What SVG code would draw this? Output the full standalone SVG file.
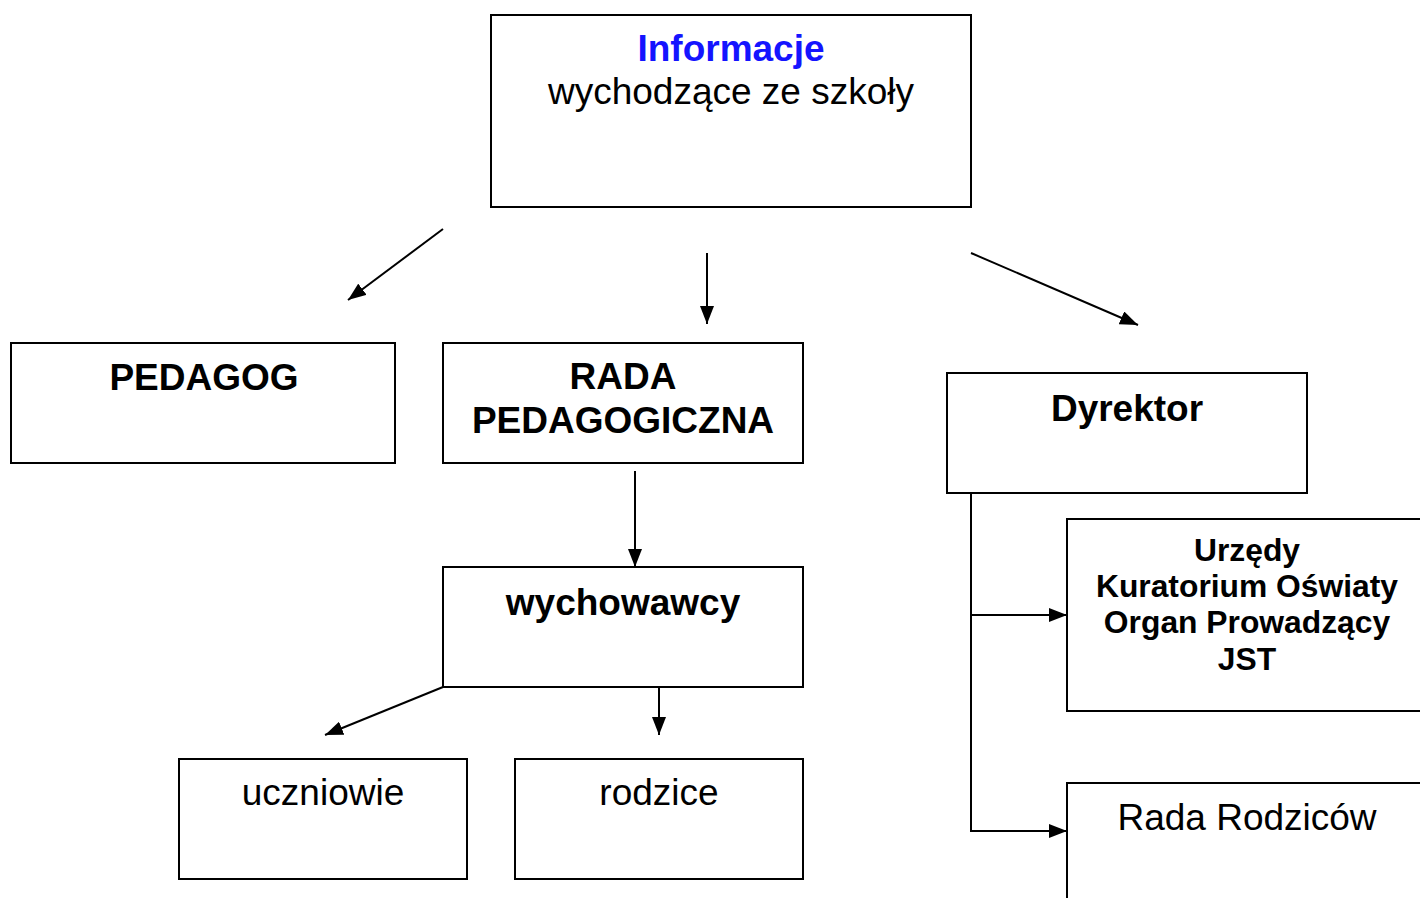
<svg xmlns="http://www.w3.org/2000/svg" width="1420" height="898" viewBox="0 0 1420 898">
<style>
rect{fill:#fff;stroke:#000;stroke-width:2}
text{font-family:"Liberation Sans",Arial,sans-serif;text-anchor:middle;fill:#000}
.b{font-weight:bold;font-size:37px}
.r{font-size:37px}
.s{font-weight:bold;font-size:31.8px}
.c line,.c path{stroke:#000;stroke-width:2;fill:none}
</style>
<defs>
<marker id="a" viewBox="0 0 18 14" refX="18" refY="7" markerWidth="18" markerHeight="14" markerUnits="userSpaceOnUse" orient="auto">
<path d="M0,0L18,7L0,14z" fill="#000"/>
</marker>
</defs>
<rect width="1420" height="898" style="stroke:none"/>
<g id="informacje"><rect x="491" y="15" width="480" height="192"/>
<text x="731" y="61" class="b" style="fill:#1414ff">Informacje</text>
<text x="731" y="104" class="r">wychodzące ze szkoły</text></g>
<g id="pedagog"><rect x="11" y="343" width="384" height="120"/><text x="204" y="390" class="b">PEDAGOG</text></g>
<g id="rada-pedagogiczna"><rect x="443" y="343" width="360" height="120"/><text x="623" y="389" class="b">RADA</text><text x="623" y="433" class="b">PEDAGOGICZNA</text></g>
<g id="dyrektor"><rect x="947" y="373" width="360" height="120"/><text x="1127" y="421" class="b">Dyrektor</text></g>
<g id="wychowawcy"><rect x="443" y="567" width="360" height="120"/><text x="623" y="615" class="b">wychowawcy</text></g>
<g id="uczniowie"><rect x="179" y="759" width="288" height="120"/><text x="323" y="805" class="r">uczniowie</text></g>
<g id="rodzice"><rect x="515" y="759" width="288" height="120"/><text x="659" y="805" class="r">rodzice</text></g>
<g id="urzedy"><rect x="1067" y="519" width="380" height="192"/>
<text x="1247" y="561" class="s">Urzędy</text>
<text x="1247" y="597" class="s">Kuratorium Oświaty</text>
<text x="1247" y="633" class="s">Organ Prowadzący</text>
<text x="1247" y="670" class="s">JST</text></g>
<g id="rada-rodzicow"><rect x="1067" y="783" width="380" height="160"/><text x="1247" y="830" class="r">Rada Rodziców</text></g>
<g id="connectors" class="c">
<line x1="443" y1="229" x2="348" y2="300" marker-end="url(#a)"/>
<line x1="707" y1="253" x2="707" y2="324" marker-end="url(#a)"/>
<line x1="971" y1="253" x2="1138" y2="325" marker-end="url(#a)"/>
<line x1="635" y1="471" x2="635" y2="567" marker-end="url(#a)"/>
<line x1="443" y1="687" x2="325" y2="735" marker-end="url(#a)"/>
<line x1="659" y1="687" x2="659" y2="735" marker-end="url(#a)"/>
<line x1="971" y1="493" x2="971" y2="831"/>
<line x1="971" y1="615" x2="1067" y2="615" marker-end="url(#a)"/>
<line x1="970" y1="831" x2="1067" y2="831" marker-end="url(#a)"/>
</g>
</svg>
